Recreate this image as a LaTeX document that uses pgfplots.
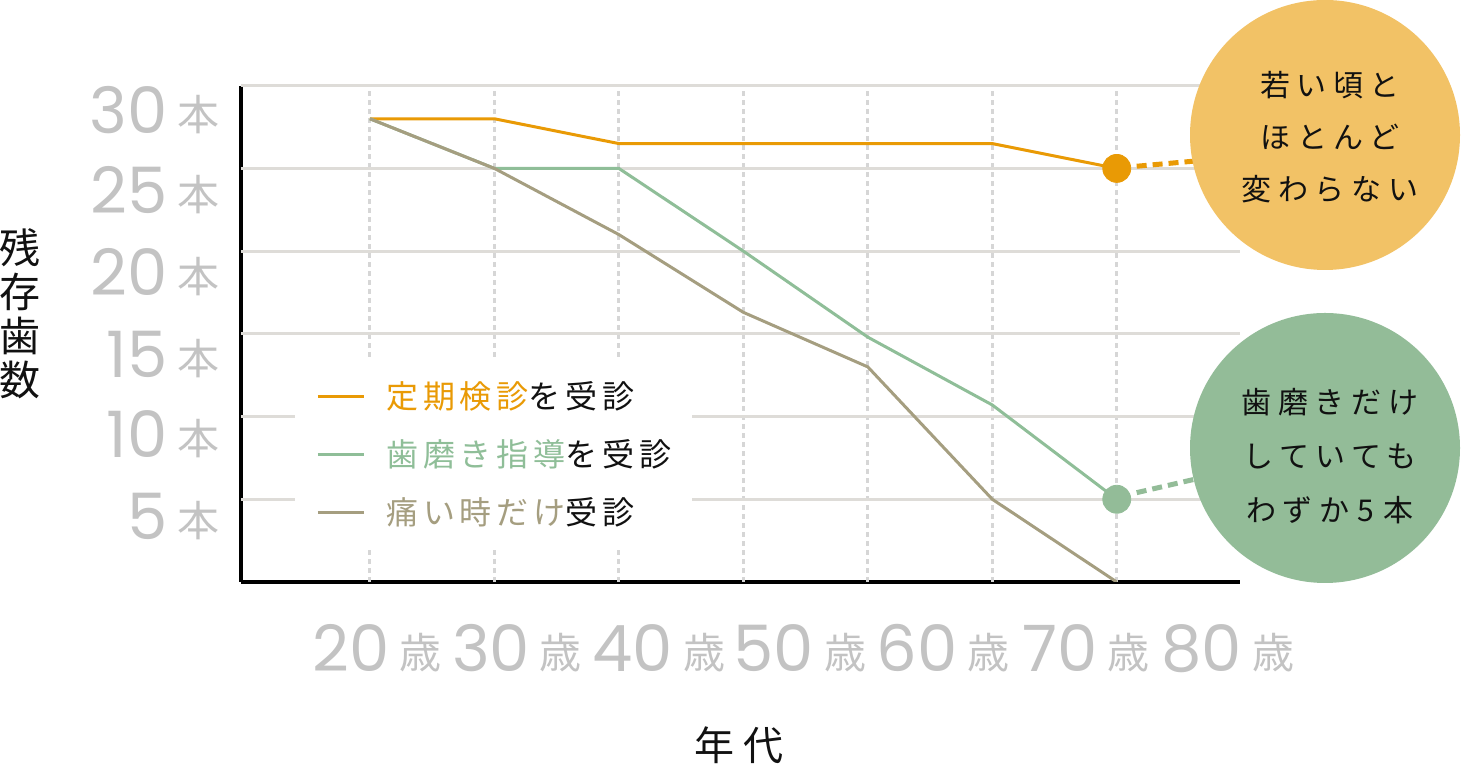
\documentclass[border=0pt]{standalone}
\usepackage{pgfplots}
\pgfplotsset{compat=1.18}
\usepackage{fontspec}
\setmainfont{Noto Sans CJK JP}
\newfontfamily\numfont{Poppins}
\newfontfamily\jpA[LetterSpace=15]{Noto Sans CJK JP}
\newfontfamily\jpB[LetterSpace=22]{Noto Sans CJK JP}
\newfontfamily\jpC[LetterSpace=22]{Noto Sans CJK JP}
\definecolor{orangeL}{HTML}{E99A05}
\definecolor{greenL}{HTML}{8FBE98}
\definecolor{tanL}{HTML}{A59E80}
\definecolor{circO}{HTML}{F2C266}
\definecolor{circG}{HTML}{93BC98}
\definecolor{tickgray}{HTML}{C3C3C3}
\definecolor{hgrid}{HTML}{DEDCD8}
\definecolor{vgrid}{HTML}{D6D6D6}
\definecolor{ink}{HTML}{111111}
\newcommand\xl[1]{{\numfont\fontsize{32}{32}\selectfont #1}\hspace{5pt}\raisebox{1.5pt}{\fontsize{21}{21}\selectfont 歳}}
\newcommand\yl[1]{{\numfont\fontsize{32}{32}\selectfont #1}\hspace{5pt}\raisebox{1.5pt}{\fontsize{21}{21}\selectfont 本}}
\begin{document}
\begin{tikzpicture}[x=1pt,y=1pt]
\useasboundingbox (0,0) rectangle (742,382);
\begin{axis}[
  at={(120.5pt,91pt)}, anchor=south west,
  scale only axis, width=499.5pt, height=248.15pt,
  xmin=9.64, xmax=89.9, ymin=0, ymax=30,
  axis x line=bottom, axis y line=left,
  axis line style={line width=1.6pt, black, -},
  major tick length=0pt,
  xtick={20.56,31.81,43.21,54.54,66.03,77.51,88.92},
  xticklabels={\xl{20},\xl{30},\xl{40},\xl{50},\xl{60},\xl{70},\xl{80}},
  xticklabel style={text=tickgray, anchor=base, inner sep=0pt, yshift=-45pt},
  ytick={2.55,7.5,12.37,17.3,22.25,27.13},
  yticklabels={\yl{5},\yl{10},\yl{15},\yl{20},\yl{25},\yl{30}},
  yticklabel style={text=tickgray, anchor=base east, inner sep=0pt, xshift=-10.5pt},
  extra x ticks={20,30,40,50,60,70,80},
  extra x tick labels={},
  extra x tick style={grid=major, major grid style={color=vgrid, line width=1.5pt, dash pattern=on 2.5pt off 2pt}},
  extra y ticks={5,10,15,20,25,30},
  extra y tick labels={},
  extra y tick style={grid=major, major grid style={color=hgrid, line width=1.5pt}},
  xlabel={年代},
  xlabel style={at={(rel axis cs:0.4985,-0.328)}, anchor=center, font=\jpC\fontsize{20}{20}\selectfont, text=ink},
  ylabel={残\\存\\歯\\数},
  ylabel style={at={(rel axis cs:-0.2212,0.5406)}, anchor=center, rotate=-90, align=center, font=\fontsize{20.5}{22}\selectfont, text=ink},
  legend style={at={(rel axis cs:0.054,0.448)}, anchor=north west, draw=none, fill=white,
    inner xsep=10.5pt, inner ysep=10.5pt, row sep=14pt, column sep=10.5pt,
    font=\jpA\fontsize{16}{16}\selectfont, text=ink, nodes={inner sep=0pt}},
  legend cell align=left,
  legend image code/.code={\draw[#1, line width=1.5pt] (0pt,0pt) -- (23pt,0pt);},
]
\addplot[orangeL, line width=1.5pt] coordinates {(20,28) (30,28) (40,26.5) (50,26.5) (60,26.5) (70,26.5) (80,25)};
\addlegendentry{{\color{orangeL}定期検診}を受診}
\addplot[greenL, line width=1.5pt] coordinates {(20,28) (30,25) (40,25) (50,20) (60,14.8) (70,10.7) (80,5)};
\addlegendentry{{\color{greenL}歯磨き指導}を受診}
\addplot[tanL, line width=1.5pt] coordinates {(20,28) (30,25) (40,21) (50,16.3) (60,13) (70,5) (80,0)};
\addlegendentry{{\color{tanL}痛い時だけ}受診}
\addplot[only marks, mark=*, mark size=7pt, color=orangeL, forget plot] coordinates {(80,25)};
\addplot[only marks, mark=*, mark size=7pt, color=circG, forget plot] coordinates {(80,5)};
\draw[orangeL, line width=2.5pt, dash pattern=on 5pt off 3pt] (axis cs:81.6,25.13) -- (axis cs:86.2,25.44);
\draw[circG, line width=2.5pt, dash pattern=on 5pt off 3pt] (axis cs:81.6,5.4) -- (axis cs:86.2,6.2);
\end{axis}
\fill[circO] (662.5,314.5) circle (67.5);
\fill[circG] (662.5,158) circle (67.5);
\node[align=center, text=ink, font=\jpB\fontsize{15}{26}\selectfont] at (665,313.5) {若い頃と\\ほとんど\\変わらない};
\node[align=center, text=ink, font=\jpB\fontsize{15}{27}\selectfont] at (665,154) {歯磨きだけ\\していても\\わずか\hspace{4pt}5\hspace{5pt}本};
\end{tikzpicture}
\end{document}
